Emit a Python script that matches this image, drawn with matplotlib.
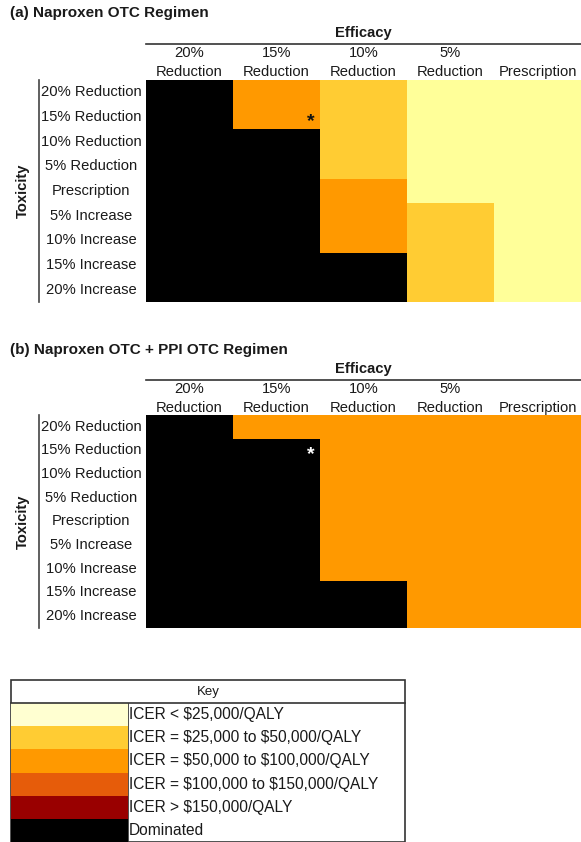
import matplotlib
matplotlib.use("Agg")
import matplotlib.pyplot as plt
from matplotlib.colors import ListedColormap, BoundaryNorm
from matplotlib.patches import Rectangle
import numpy as np

plt.rcParams['font.family'] = ['Liberation Sans', 'DejaVu Sans']
plt.rcParams['text.parse_math'] = False

# Category codes: 0 <25k, 1 25-50k, 2 50-100k, 3 100-150k, 4 >150k, 5 dominated
efficacy_labels = [("20%", "Reduction"), ("15%", "Reduction"), ("10%", "Reduction"),
                   ("5%", "Reduction"), ("", "Prescription")]
toxicity_labels = ["20% Reduction", "15% Reduction", "10% Reduction",
                   "5% Reduction", "Prescription", "5% Increase",
                   "10% Increase", "15% Increase", "20% Increase"]

naproxen_otc = [
    [5, 2, 1, 0, 0],
    [5, 2, 1, 0, 0],
    [5, 5, 1, 0, 0],
    [5, 5, 1, 0, 0],
    [5, 5, 2, 0, 0],
    [5, 5, 2, 1, 0],
    [5, 5, 2, 1, 0],
    [5, 5, 5, 1, 0],
    [5, 5, 5, 1, 0],
]
naproxen_ppi_otc = [
    [5, 2, 2, 2, 2],
    [5, 5, 2, 2, 2],
    [5, 5, 2, 2, 2],
    [5, 5, 2, 2, 2],
    [5, 5, 2, 2, 2],
    [5, 5, 2, 2, 2],
    [5, 5, 2, 2, 2],
    [5, 5, 5, 2, 2],
    [5, 5, 5, 2, 2],
]
# base case marker (row, column) for each regimen
base_case = (1, 1)

grid_colors = ["#FFFF99", "#FFCC33", "#FF9900", "#E65C0A", "#990000", "#000000"]
key_colors = ["#FFFFD1", "#FFCC33", "#FF9900", "#E65C0A", "#990000", "#000000"]
key_labels = ["ICER < $25,000/QALY", "ICER = $25,000 to $50,000/QALY",
              "ICER = $50,000 to $100,000/QALY", "ICER = $100,000 to $150,000/QALY",
              "ICER > $150,000/QALY", "Dominated"]

W, H = 581, 842
fig = plt.figure(figsize=(W / 100, H / 100), dpi=100)
ax = fig.add_axes([0, 0, 1, 1])
ax.set_xlim(0, W)
ax.set_ylim(H, 0)
ax.axis('off')

cmap = ListedColormap(grid_colors)
norm = BoundaryNorm(np.arange(-0.5, 6.5, 1), cmap.N)

txt = "#1a1a1a"
fs = 10.6


def panel(data, title, y_title, y_eff, y_line, y_col1, y_col2, top, bottom, star_color):
    left, right = 146, 581
    ax.text(10, y_title, title, fontsize=11, fontweight='bold', color=txt,
            ha='left', va='center')
    ax.text((left + right) / 2, y_eff, "Efficacy", fontsize=fs, fontweight='bold',
            color=txt, ha='center', va='center')
    ax.plot([left, right], [y_line, y_line], color="#333333", lw=1.2)
    arr = np.array(data)
    ax.imshow(arr, cmap=cmap, norm=norm, extent=(left, right, bottom, top),
              aspect='auto', interpolation='nearest')
    ncol = arr.shape[1]
    nrow = arr.shape[0]
    cw = (right - left) / ncol
    rh = (bottom - top) / nrow
    for j, (l1, l2) in enumerate(efficacy_labels):
        xc = left + (j + 0.5) * cw
        ax.text(xc, y_col1, l1, fontsize=fs, color=txt, ha='center', va='center')
        ax.text(xc, y_col2, l2, fontsize=fs, color=txt, ha='center', va='center')
    for i, lab in enumerate(toxicity_labels):
        ax.text(91, top + (i + 0.5) * rh, lab, fontsize=fs, color=txt,
                ha='center', va='center')
    ax.plot([39, 39], [top, bottom], color="#444444", lw=1.2)
    ax.text(23, (top + bottom) / 2, "Toxicity", fontsize=fs, fontweight='bold',
            color=txt, rotation=90, ha='center', va='center')
    r, c = base_case
    ax.text(left + (c + 1) * cw - 9, top + (r + 1) * rh - 8, "*", fontsize=14,
            fontweight='bold', color=star_color, ha='center', va='center')


panel(naproxen_otc, "(a) Naproxen OTC Regimen", 13, 33, 44, 53, 72, 80, 302, "#111111")
panel(naproxen_ppi_otc, "(b) Naproxen OTC + PPI OTC Regimen", 350, 369, 380, 389, 408,
      415, 628, "white")

# key
kx0, kx1, ky0 = 11, 405, 680
head_h, row_h, sw = 23, 23.2, 117
ax.add_patch(Rectangle((kx0, ky0), kx1 - kx0, head_h + row_h * len(key_colors),
                       facecolor='white', edgecolor='#333333', lw=1.2))
ax.text((kx0 + kx1) / 2, ky0 + head_h / 2, "Key", fontsize=9.5, color=txt,
        ha='center', va='center')
ax.plot([kx0, kx1], [ky0 + head_h, ky0 + head_h], color="#333333", lw=1.2)
for i, (col, lab) in enumerate(zip(key_colors, key_labels)):
    y = ky0 + head_h + i * row_h
    ax.add_patch(Rectangle((kx0, y), sw, row_h, facecolor=col, edgecolor='none'))
    ax.text(kx0 + sw + 1, y + row_h / 2, lab, fontsize=11.2, color=txt,
            ha='left', va='center')
ax.plot([kx0 + sw, kx0 + sw], [ky0 + head_h, ky0 + head_h + row_h * len(key_colors)],
        color="#333333", lw=0.6)

fig.savefig("out.png", dpi=100)
